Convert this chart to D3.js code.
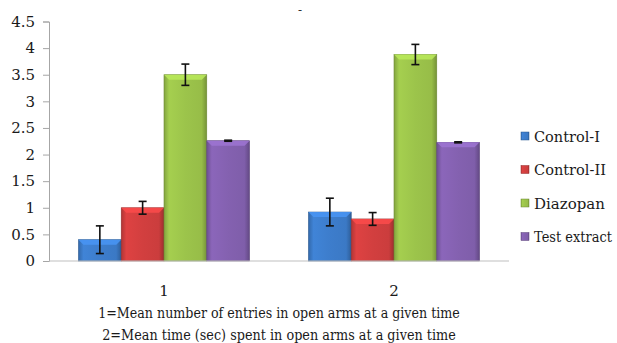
<!DOCTYPE html>
<html>
<head>
<meta charset="utf-8">
<script src="https://cdn.jsdelivr.net/npm/d3@7"></script>
<style>
html,body{margin:0;padding:0;background:#fff;}
</style>
</head>
<body>
<svg id="chart" width="617" height="343"></svg>
<script>
const categories = ["1", "2"];
const seriesNames = ["Control-I", "Control-II", "Diazopan", "Test extract"];
const controlI = [0.40, 0.92];
const controlII = [1.00, 0.79];
const diazopan = [3.50, 3.88];
const testExtract = [2.26, 2.23];
const errControlI = [0.26, 0.26];
const errControlII = [0.12, 0.12];
const errDiazopan = [0.20, 0.19];
const errTestExtract = [0.01, 0.01];
const yTicks = [0, 0.5, 1, 1.5, 2, 2.5, 3, 3.5, 4, 4.5];
const yTickLabels = ["0", "0.5", "1", "1.5", "2", "2.5", "3", "3.5", "4", "4.5"];
const captionLines = ["1=Mean number of entries in open arms at a given time",
                      "2=Mean time (sec) spent in open arms at a given time"];
const colors = ["#3d7dcc", "#d23f3f", "#9cc44b", "#8461b0"];

const values = [controlI, controlII, diazopan, testExtract];
const errs = [errControlI, errControlII, errDiazopan, errTestExtract];
const FONT = "'DejaVu Serif', 'Liberation Serif', serif";
const legendTextLengths = [66, 72, 72, 78];
const captionLengths = [362, 354];

const svg = d3.select("#chart");
const mLeft = 49, mRight = 509, mTop = 21.5, mBottom = 261;

const x0 = d3.scaleBand().domain(categories).range([mLeft, mRight]).paddingInner(0).paddingOuter(0);
const x1 = d3.scaleBand().domain(seriesNames).range([0, x0.bandwidth()]).paddingInner(0).paddingOuter(0.689);
const y = d3.scaleLinear().domain([0, 4.5]).range([mBottom, mTop]);

// gradients
const defs = svg.append("defs");
colors.forEach((c, i) => {
  const g = defs.append("linearGradient").attr("id", "g" + i).attr("x1", 0).attr("x2", 1).attr("y1", 0).attr("y2", 0);
  const base = d3.color(c);
  g.append("stop").attr("offset", "0%").attr("stop-color", base.darker(0.5));
  g.append("stop").attr("offset", "12%").attr("stop-color", base.brighter(0.15));
  g.append("stop").attr("offset", "50%").attr("stop-color", base);
  g.append("stop").attr("offset", "88%").attr("stop-color", base.darker(0.1));
  g.append("stop").attr("offset", "100%").attr("stop-color", base.darker(0.8));
});

// fit text horizontally by scaling (keeps bbox honest)
function fitWidth(sel, target, anchorX, anchorMode) {
  const node = sel.node();
  const w = node.getComputedTextLength();
  const k = Math.min(1, target / w);
  sel.attr("transform", `translate(${anchorX},0) scale(${k},1) translate(${-anchorX},0)`);
}

// axes
const yAxis = d3.axisLeft(y).tickValues(yTicks).tickFormat((d, i) => yTickLabels[i]).tickSize(6).tickPadding(8);
const ya = svg.append("g").attr("transform", `translate(${mLeft},0)`).call(yAxis);
ya.attr("font-family", FONT).attr("font-size", 15);
ya.select(".domain").attr("stroke", "#a6a6a6");
ya.selectAll(".tick line").attr("stroke", "#a6a6a6");
ya.selectAll(".tick text").attr("fill", "#1a1a1a");

// bars
seriesNames.forEach((s, si) => {
  categories.forEach((cat, ci) => {
    const v = values[si][ci];
    const bx = x0(cat) + x1(s);
    const bw = x1.bandwidth();
    const by = y(v);
    const bh = y(0) - by;
    svg.append("rect").attr("x", bx).attr("y", by).attr("width", bw).attr("height", bh)
      .attr("fill", `url(#g${si})`).attr("stroke", d3.color(colors[si]).darker(1)).attr("stroke-width", 0.6);
    const b = 5;
    svg.append("path")
      .attr("d", `M${bx},${by} L${bx + bw},${by} L${bx + bw - b},${by + b} L${bx + b},${by + b} Z`)
      .attr("fill", d3.color(colors[si]).brighter(0.5)).attr("opacity", 0.85);
    const e = errs[si][ci];
    const cx = bx + bw / 2;
    const eg = svg.append("g").attr("stroke", "#111").attr("stroke-width", 1.6);
    eg.append("line").attr("x1", cx).attr("x2", cx).attr("y1", y(v + e)).attr("y2", y(v - e));
    eg.append("line").attr("x1", cx - 4).attr("x2", cx + 4).attr("y1", y(v + e)).attr("y2", y(v + e));
    eg.append("line").attr("x1", cx - 4).attr("x2", cx + 4).attr("y1", y(v - e)).attr("y2", y(v - e));
  });
});

// baseline
svg.append("line").attr("x1", mLeft).attr("x2", mRight).attr("y1", y(0)).attr("y2", y(0))
  .attr("stroke", "#bfbfbf").attr("stroke-width", 1.2);

// category labels
const xAxis = d3.axisBottom(x0).tickSize(0).tickPadding(24);
const xa = svg.append("g").attr("transform", `translate(0,${mBottom})`).call(xAxis);
xa.attr("font-family", FONT).attr("font-size", 15);
xa.select(".domain").remove();
xa.selectAll(".tick text").attr("fill", "#1a1a1a");

// caption
captionLines.forEach((t, i) => {
  const cx = (mLeft + mRight) / 2;
  const tx = svg.append("text").attr("x", cx).attr("y", 318 + i * 22)
    .attr("text-anchor", "middle").attr("font-size", 15).attr("font-family", FONT).attr("fill", "#1a1a1a")
    .text(t);
  fitWidth(tx, captionLengths[i], cx);
});

// small title mark
svg.append("text").attr("x", 300).attr("y", 14).attr("text-anchor", "middle").attr("font-family", FONT).attr("font-size", 12).attr("fill", "#333").text("-");

// legend
const lg = svg.append("g").attr("transform", "translate(521,136)").attr("font-family", FONT).attr("font-size", 15);
seriesNames.forEach((s, i) => {
  const row = lg.append("g").attr("transform", `translate(0,${i * 33.5})`);
  row.append("rect").attr("x", 0).attr("y", -4).attr("width", 8).attr("height", 8)
    .attr("fill", `url(#g${i})`).attr("stroke", d3.color(colors[i]).darker(1)).attr("stroke-width", 0.5);
  const tx = row.append("text").attr("x", 13).attr("y", 5.5).attr("fill", "#1a1a1a").text(s);
  fitWidth(tx, legendTextLengths[i], 13);
});
</script>
</body>
</html>
